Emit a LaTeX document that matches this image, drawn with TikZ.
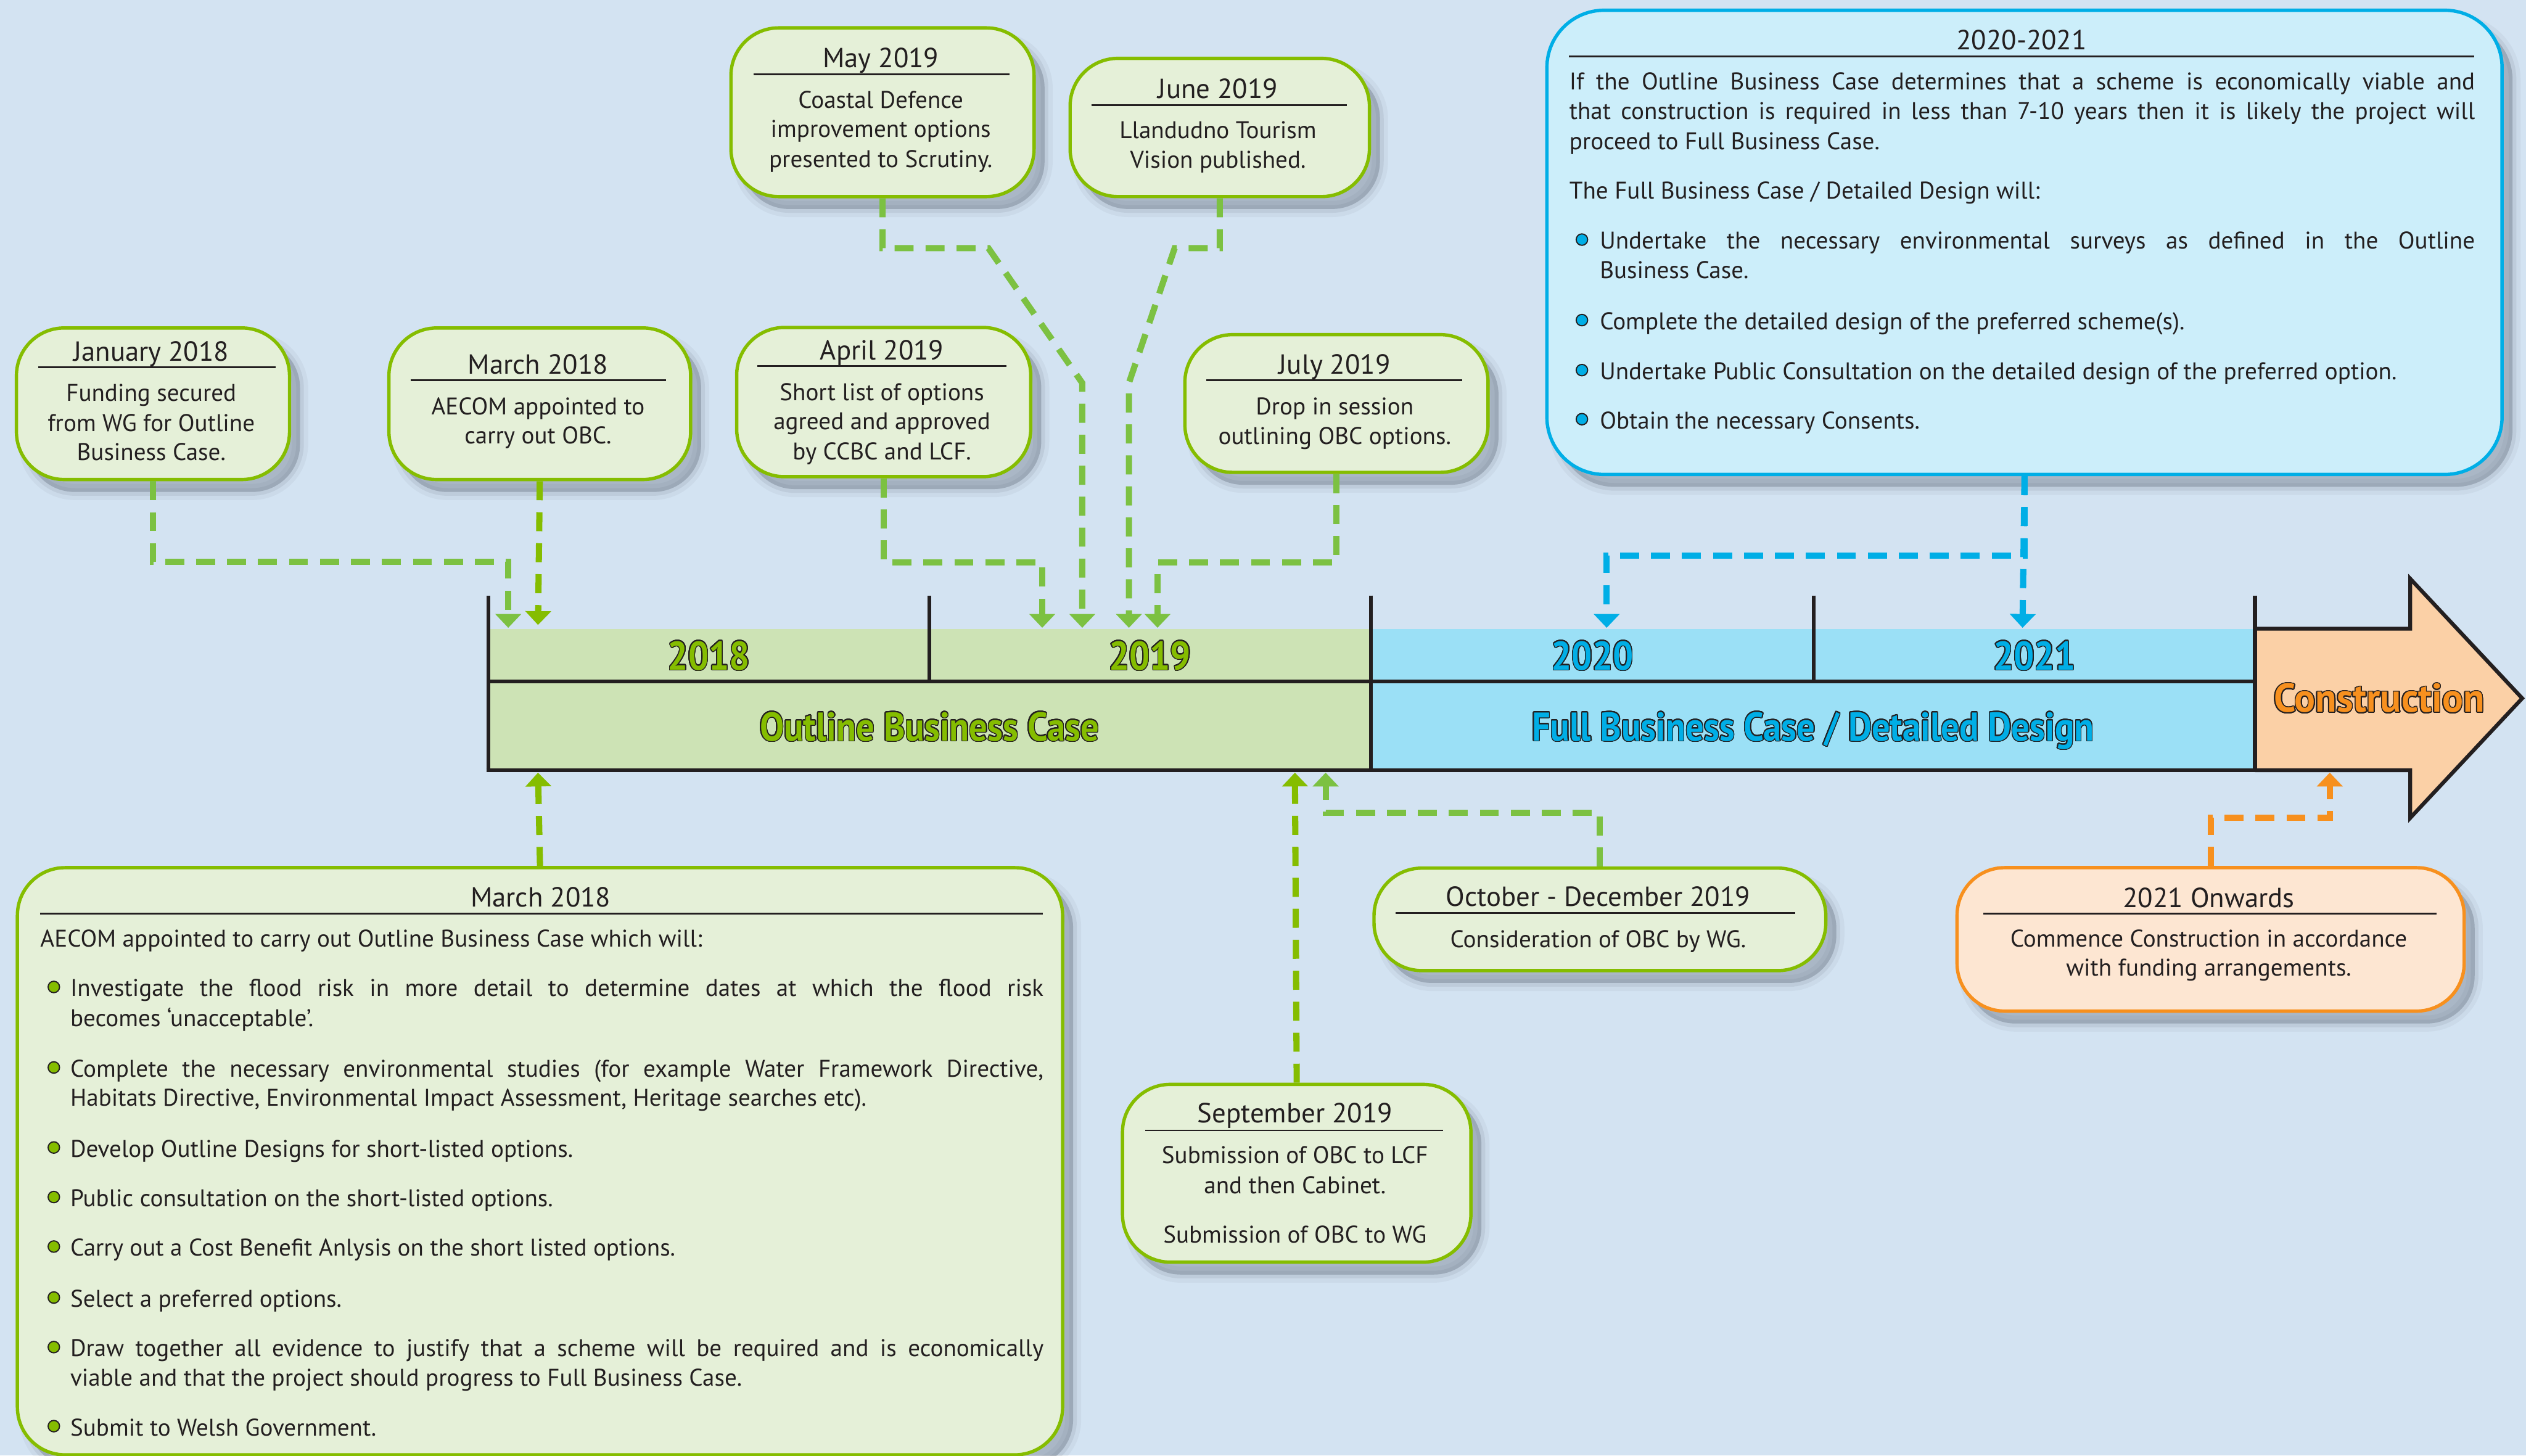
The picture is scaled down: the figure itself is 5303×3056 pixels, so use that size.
\documentclass[tikz,border=0pt]{standalone}
\usepackage{fontspec}
\setmainfont{PT Sans}
\usepackage{contour}
\contourlength{0.6pt}
\contournumber{24}
\usetikzlibrary{arrows.meta,shadows}
\definecolor{bgc}{RGB}{211,227,242}
\definecolor{gfill}{RGB}{229,240,216}
\definecolor{gA}{RGB}{124,193,66}
\definecolor{gB}{RGB}{133,189,0}
\definecolor{obcfill}{RGB}{205,227,181}
\definecolor{fbcfill}{RGB}{155,224,246}
\definecolor{bfill}{RGB}{204,238,250}
\definecolor{bline}{RGB}{0,174,230}
\definecolor{ofill}{RGB}{253,230,210}
\definecolor{oline}{RGB}{247,144,30}
\definecolor{confill}{RGB}{251,208,166}
\definecolor{ink}{RGB}{35,31,32}
\definecolor{shc}{RGB}{100,110,125}
\newcommand\lbl[3][0.9]{\scalebox{#1}[1]{\textcolor{#2}{\contour{ink}{#3}}}}
\newcommand\gbul[2]{\filldraw[fill=gB,draw=ink,line width=0.7pt] (#1,#2) circle[radius=0.12cm];}
\newcommand\bbul[2]{\filldraw[fill=bline,draw=ink,line width=0.7pt] (#1,#2) circle[radius=0.12cm];}
\tikzset{
 shadowed/.style={
  general shadow={shadow xshift=0.22cm, shadow yshift=-0.26cm, fill=shc, draw=shc, line width=0.34cm, opacity=0.07},
  general shadow={shadow xshift=0.22cm, shadow yshift=-0.26cm, fill=shc, draw=shc, line width=0.16cm, opacity=0.12},
  general shadow={shadow xshift=0.22cm, shadow yshift=-0.26cm, fill=shc, opacity=0.22}},
 box/.style={rounded corners=1cm, line width=2pt, inner sep=0pt, anchor=north west, shadowed},
 gbox/.style={box, draw=gB, fill=gfill},
 bbox/.style={box, draw=bline, fill=bfill, rounded corners=1.2cm},
 obox/.style={box, draw=oline, fill=ofill},
 ttl/.style={anchor=base, inner sep=0pt, text=ink, font=\fontsize{16.5}{20}\selectfont},
 bdy/.style={anchor=base, inner sep=0pt, text=ink, font=\fontsize{14.4}{17}\selectfont},
 bdyl/.style={bdy, anchor=base west},
 uline/.style={draw=ink, line width=1pt},
 barline/.style={draw=ink, line width=2.3pt},
 conn/.style={line width=0.13cm, dash pattern=on 0.4cm off 0.25cm, -{Triangle[width=0.53cm,length=0.29cm]}},
 lab/.style={anchor=base, inner sep=0pt, font=\fontsize{24}{28}\selectfont\bfseries},
}
\begin{document}
\begin{tikzpicture}[x=0.01cm,y=-0.01cm]
\useasboundingbox (0,0) rectangle (5303,3056);
\clip (0,0) rectangle (5303,3056);
\fill[bgc] (0,0) rectangle (5303,3056);

% ---------- timeline bar ----------
\fill[obcfill] (1025,1320) rectangle (2878,1617);
\fill[fbcfill] (2878,1320) rectangle (4734,1617);
\draw[barline, fill=confill, line join=miter] (4734,1320) -- (5060,1320) -- (5060,1215) -- (5295,1466) -- (5060,1717) -- (5060,1617) -- (4734,1617);
\draw[barline] (1025,1250) -- (1025,1621);
\draw[barline] (1951,1250) -- (1951,1431);
\draw[barline] (2878,1250) -- (2878,1617);
\draw[barline] (3808,1250) -- (3808,1431);
\draw[barline] (4734,1250) -- (4734,1617);
\draw[barline] (1025,1431) -- (4734,1431);
\draw[barline] (1021,1617) -- (4734,1617);

\node[lab] (y18) at (1488,1406) {\lbl{gB}{2018}};
\node[lab] (y19) at (2414,1406) {\lbl{gB}{2019}};
\node[lab] (y20) at (3343,1406) {\lbl{bline}{2020}};
\node[lab] (y21) at (4271,1406) {\lbl{bline}{2021}};
\node[lab] (obc) at (1951,1555) {\lbl{gB}{Outline Business Case}};
\node[lab] (fbcl) at (3806,1555) {\lbl{bline}{Full Business Case / Detailed Design}};
\node[lab] (cons) at (4995,1495) {\lbl[0.97]{oline}{Construction}};

% ---------- targets ----------
\coordinate (tjan) at (1067,1318);
\coordinate (tmar) at (1129.5,1312);
\coordinate (tapr) at (2188,1318);
\coordinate (tmay) at (2272,1318);
\coordinate (tjun) at (2370,1318);
\coordinate (tjul) at (2430,1318);
\coordinate (t20) at (3373,1318);
\coordinate (t21) at (4246,1318);
\coordinate (tmar2) at (1129.5,1622);
\coordinate (tsep) at (2718.5,1622);
\coordinate (toct) at (2783,1622);
\coordinate (tcon) at (4891,1622);

% ---------- boxes ----------
\node[gbox, minimum width=5.73cm, minimum height=3.18cm] (jan) at (31,685) {};
\node[ttl] (jan-t) at (317.5,758) {January 2018};
\draw[uline] (80,771) -- (579,771);
\node[bdy] (jan-1) at (317.5,842) {Funding secured};
\node[bdy] (jan-2) at (317.5,905) {from WG for Outline};
\node[bdy] (jan-3) at (317.5,967) {Business Case.};

\node[gbox, minimum width=6.33cm, minimum height=3.18cm] (mar) at (813,685) {};
\node[ttl] (mar-t) at (1129.5,785) {March 2018};
\draw[uline] (862,798) -- (1398,798);
\node[bdy] (mar-1) at (1129.5,870) {AECOM appointed to};
\node[bdy] (mar-2) at (1129.5,932) {carry out OBC.};

\node[gbox, minimum width=6.17cm, minimum height=3.13cm] (apr) at (1543,684) {};
\node[ttl] (apr-t) at (1851.5,756) {April 2019};
\draw[uline] (1590,768) -- (2113,768);
\node[bdy] (apr-1) at (1851.5,841) {Short list of options};
\node[bdy] (apr-2) at (1851.5,902) {agreed and approved};
\node[bdy] (apr-3) at (1851.5,965) {by CCBC and LCF.};

\node[gbox, minimum width=6.36cm, minimum height=3.54cm] (may) at (1531,55) {};
\node[ttl] (may-t) at (1849,142) {May 2019};
\draw[uline] (1582,156) -- (2119,156);
\node[bdy] (may-1) at (1849,227) {Coastal Defence};
\node[bdy] (may-2) at (1849,288) {improvement options};
\node[bdy] (may-3) at (1849,352) {presented to Scrutiny.};

\node[gbox, minimum width=6.28cm, minimum height=2.90cm] (jun) at (2243,119) {};
\node[ttl] (jun-t) at (2557,207) {June 2019};
\draw[uline] (2291,221) -- (2828,221);
\node[bdy] (jun-1) at (2557,290) {Llandudno Tourism};
\node[bdy] (jun-2) at (2557,353) {Vision published.};

\node[gbox, minimum width=6.36cm, minimum height=2.89cm] (jul) at (2484,699) {};
\node[ttl] (jul-t) at (2802,785) {July 2019};
\draw[uline] (2533,798) -- (3070,798);
\node[bdy] (jul-1) at (2802,870) {Drop in session};
\node[bdy] (jul-2) at (2802,933) {outlining OBC options.};

\node[bbox, minimum width=20.04cm, minimum height=9.74cm] (fbc) at (3244,18) {};
\node[ttl] (fbc-t) at (4244,104) {2020-2021};
\draw[uline] (3294,118) -- (5194,118);
\node[bdyl] (fbc-1) at (3294,188) {\makebox[19cm][s]{If the Outline Business Case determines that a scheme is economically viable and}};
\node[bdyl] (fbc-2) at (3294,251) {\makebox[19cm][s]{that construction is required in less than 7-10 years then it is likely the project will}};
\node[bdyl] (fbc-3) at (3294,314) {proceed to Full Business Case.};
\node[bdyl] (fbc-4) at (3294,418) {The Full Business Case / Detailed Design will:};
\bbul{3321}{503}
\node[bdyl] (fbc-5) at (3358,523) {\makebox[18.36cm][s]{Undertake the necessary environmental surveys as defined in the Outline}};
\node[bdyl] (fbc-6) at (3358,585) {Business Case.};
\bbul{3321}{672}
\node[bdyl] (fbc-7) at (3358,692) {Complete the detailed design of the preferred scheme(s).};
\bbul{3321}{777}
\node[bdyl] (fbc-8) at (3358,797) {Undertake Public Consultation on the detailed design of the preferred option.};
\bbul{3321}{880}
\node[bdyl] (fbc-9) at (3358,900) {Obtain the necessary Consents.};

\node[gbox, minimum width=21.93cm, minimum height=12.32cm] (mar2) at (33,1818) {};
\node[ttl] (mar2-t) at (1135,1904) {March 2018};
\draw[uline] (84,1918) -- (2189,1918);
\node[bdyl] (mar2-0) at (84,1988) {AECOM appointed to carry out Outline Business Case which will:};
\gbul{113}{2072}
\node[bdyl] (mar2-1) at (147,2092) {\makebox[20.42cm][s]{Investigate the flood risk in more detail to determine dates at which the flood risk}};
\node[bdyl] (mar2-2) at (147,2155) {becomes ‘unacceptable’.};
\gbul{113}{2241}
\node[bdyl] (mar2-3) at (147,2261) {\makebox[20.42cm][s]{Complete the necessary environmental studies (for example Water Framework Directive,}};
\node[bdyl] (mar2-4) at (147,2322) {Habitats Directive, Environmental Impact Assessment, Heritage searches etc).};
\gbul{113}{2409}
\node[bdyl] (mar2-5) at (147,2429) {Develop Outline Designs for short-listed options.};
\gbul{113}{2513}
\node[bdyl] (mar2-6) at (147,2533) {Public consultation on the short-listed options.};
\gbul{113}{2617}
\node[bdyl] (mar2-7) at (147,2637) {Carry out a Cost Benefit Anlysis on the short listed options.};
\gbul{113}{2724}
\node[bdyl] (mar2-8) at (147,2744) {Select a preferred options.};
\gbul{113}{2828}
\node[bdyl] (mar2-9) at (147,2848) {\makebox[20.42cm][s]{Draw together all evidence to justify that a scheme will be required and is economically}};
\node[bdyl] (mar2-10) at (147,2910) {viable and that the project should progress to Full Business Case.};
\gbul{113}{2994}
\node[bdyl] (mar2-11) at (147,3014) {Submit to Welsh Government.};

\node[gbox, minimum width=9.48cm, minimum height=2.15cm] (oct) at (2881,1819) {};
\node[ttl] (oct-t) at (3355,1903) {October - December 2019};
\draw[uline] (2930,1917) -- (3769,1917);
\node[bdy] (oct-1) at (3355,1989) {Consideration of OBC by WG.};

\node[gbox, minimum width=7.31cm, minimum height=3.73cm] (sep) at (2353,2273) {};
\node[ttl] (sep-t) at (2718.5,2357) {September 2019};
\draw[uline] (2404,2373) -- (3030,2373);
\node[bdy] (sep-1) at (2718.5,2443) {Submission of OBC to LCF};
\node[bdy] (sep-2) at (2718.5,2506) {and then Cabinet.};
\node[bdy] (sep-3) at (2718.5,2610) {Submission of OBC to WG};

\node[obox, minimum width=10.64cm, minimum height=3.01cm] (onw) at (4105,1818) {};
\node[ttl] (onw-t) at (4637,1905) {2021 Onwards};
\draw[uline] (4163,1918) -- (5115,1918);
\node[bdy] (onw-1) at (4637,1988) {Commence Construction in accordance};
\node[bdy] (onw-2) at (4637,2049) {with funding arrangements.};

% ---------- connectors ----------
\draw[conn, gA] (jan.south) |- (1067,1180) -- (tjan);
\draw[conn, gB] (mar.south) -- (tmar);
\draw[conn, gA] (apr.south) |- (2188,1181) -- (tapr);
\draw[conn, gA] (may.south) |- (2075,521) -- (2272,804) -- (tmay);
\draw[conn, gA] (jun.south) |- (2466,521) -- (2370,804) -- (tjun);
\draw[conn, gA] (jul.south) |- (2430,1181) -- (tjul);
\draw[conn, bline] (fbc.south) -- (t21);
\draw[conn, bline] (fbc.south) |- (3373,1166) -- (t20);
\draw[conn, gB] (mar2.north) -- (tmar2);
\draw[conn, gB] (sep.north) -- (tsep);
\draw[conn, gA] (oct.north) |- (2783,1706) -- (toct);
\draw[conn, oline] (onw.north) |- (4891,1717) -- (tcon);
\end{tikzpicture}
\end{document}
